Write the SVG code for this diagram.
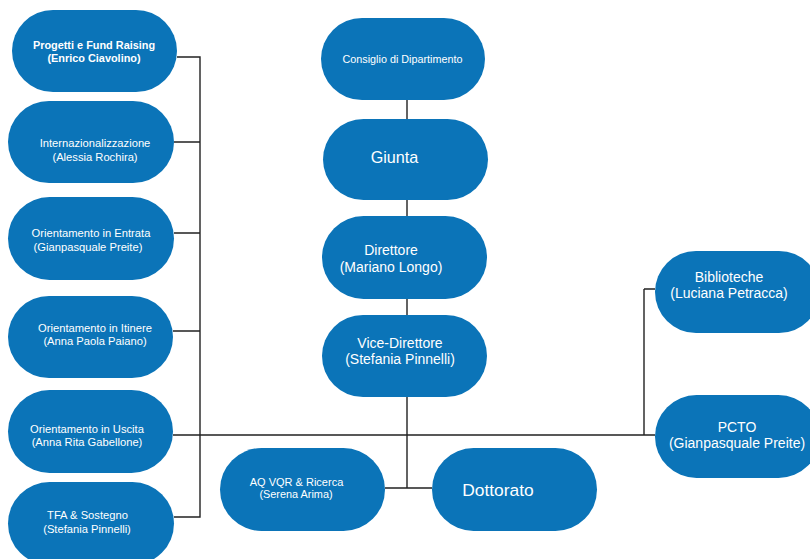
<svg xmlns="http://www.w3.org/2000/svg" width="810" height="559" viewBox="0 0 810 559">
<style>
.n{fill:#0b74b8}
.t{fill:#fff;font-family:"Liberation Sans",Arial,Helvetica,sans-serif;text-anchor:middle}
.s{font-size:11.2px}
.b{font-size:10.9px;font-weight:bold}
.m{font-size:14px}
.c{stroke:#222;stroke-width:1.4;fill:none}
</style>
<rect width="810" height="559" fill="#fff"/>
<g id="connectors" class="c">
<path d="M177 57H200.7M200 57V517.7M174 142H200M174 233H200M173 331H200M174 517H200.7M173 435H644M644 289V435.7M644 289H655M644 435H655"/>
<path d="M407 100V119M407 200V216M407 299V315M407 397V488.7M385 488H432"/>
</g>
<g id="progetti"><rect class="n" x="12" y="10" width="165" height="82" rx="41"/><text class="t b" x="94" y="48.5">Progetti e Fund Raising</text><text class="t b" x="94" y="62">(Enrico Ciavolino)</text></g>
<g id="internazionalizzazione"><rect class="n" x="8" y="101" width="166" height="82" rx="41"/><text class="t s" x="95" y="147">Internazionalizzazione</text><text class="t s" x="95" y="160.5">(Alessia Rochira)</text></g>
<g id="entrata"><rect class="n" x="8" y="197" width="166" height="83" rx="41.5"/><text class="t s" x="91" y="237.3">Orientamento in Entrata</text><text class="t s" x="88" y="250.7">(Gianpasquale Preite)</text></g>
<g id="itinere"><rect class="n" x="8" y="296" width="165" height="82" rx="41"/><text class="t s" x="95" y="331.7">Orientamento in Itinere</text><text class="t s" x="95" y="345">(Anna Paola Paiano)</text></g>
<g id="uscita"><rect class="n" x="8" y="390" width="165" height="83" rx="41.5"/><text class="t s" x="87" y="432.7">Orientamento in Uscita</text><text class="t s" x="87" y="445.7">(Anna Rita Gabellone)</text></g>
<g id="tfa"><rect class="n" x="8" y="482" width="166" height="83" rx="41.5"/><text class="t s" x="87.5" y="519.3">TFA &amp; Sostegno</text><text class="t s" x="87" y="532.7">(Stefania Pinnelli)</text></g>
<g id="consiglio"><rect class="n" x="321" y="18" width="164" height="82" rx="41"/><text class="t" style="font-size:10.8px" x="402.5" y="63">Consiglio di Dipartimento</text></g>
<g id="giunta"><rect class="n" x="323" y="119" width="165" height="81" rx="40.5"/><text class="t" style="font-size:16.2px" x="394.5" y="162.7">Giunta</text></g>
<g id="direttore"><rect class="n" x="322" y="216" width="165" height="83" rx="41.5"/><text class="t m" x="391" y="255">Direttore</text><text class="t m" x="391" y="271.5">(Mariano Longo)</text></g>
<g id="vicedirettore"><rect class="n" x="322" y="315" width="165" height="82" rx="41"/><text class="t m" x="400" y="347.7">Vice-Direttore</text><text class="t m" x="400" y="364">(Stefania Pinnelli)</text></g>
<g id="aqvqr"><rect class="n" x="220" y="448" width="165" height="83" rx="41.5"/><text class="t" style="font-size:11px" x="296.5" y="485.7">AQ VQR &amp; Ricerca</text><text class="t" style="font-size:10.9px" x="296" y="497.7">(Serena Arima)</text></g>
<g id="dottorato"><rect class="n" x="432" y="448" width="165" height="83" rx="41.5"/><text class="t" style="font-size:17.4px" x="498" y="496">Dottorato</text></g>
<g id="biblioteche"><rect class="n" x="655" y="251" width="165" height="82" rx="41"/><text class="t m" x="729" y="281.7">Biblioteche</text><text class="t m" x="729" y="298.3">(Luciana Petracca)</text></g>
<g id="pcto"><rect class="n" x="655" y="395" width="165" height="83" rx="41.5"/><text class="t m" x="737" y="431.7">PCTO</text><text class="t m" x="737" y="448">(Gianpasquale Preite)</text></g>
</svg>
